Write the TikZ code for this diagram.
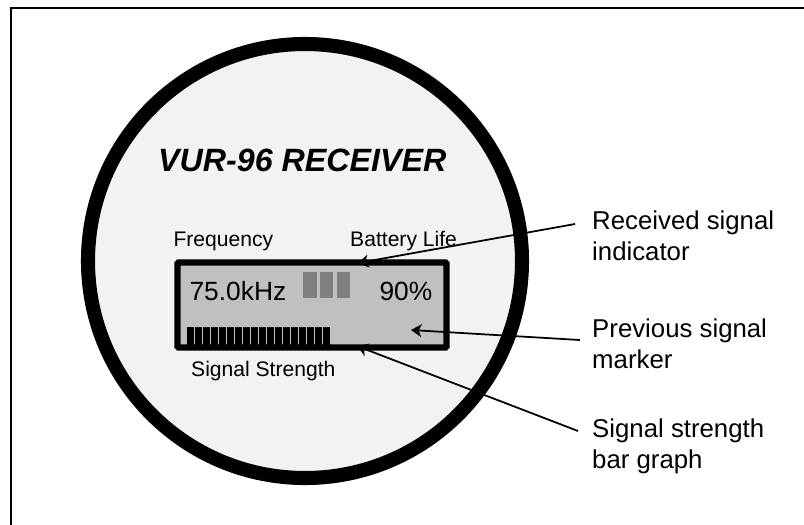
\documentclass[tikz,border=0pt]{standalone}
\usepackage{fontspec}
\setmainfont{Liberation Sans}
\usetikzlibrary{arrows.meta}

\definecolor{dialface}{HTML}{F2F2F2}
\definecolor{lcdgray}{HTML}{C0C0C0}
\definecolor{cellgray}{HTML}{808080}

\newcommand{\batteryCell}[1]{%
    \fill[cellgray] (#1,271.7) rectangle ++(13.4,26.6);
}
\newcommand{\strengthSeg}[1]{%
    \fill[black] (#1,327.3) rectangle ++(7,17.7);
}

\begin{document}
\begin{tikzpicture}[x=0.03cm, y=-0.03cm,
    smalllabel/.style={anchor=base west, inner sep=0pt, font=\fontsize{18}{21}\selectfont},
    lcdtext/.style={anchor=base west, inner sep=0pt, font=\fontsize{22.5}{26}\selectfont},
    callout/.style={anchor=base west, inner sep=0pt, align=left, font=\fontsize{22}{26}\selectfont},
    pointer/.style={line width=1.5pt, -{Stealth[length=9pt,width=11pt,inset=2.5pt]}}]

    \useasboundingbox (0,0) rectangle (804,524);

    % --- frame ---
    \draw[line width=1.7pt] (11,530) -- (11,8.3) -- (810,8.3);

    % --- dial ---
    \draw[line width=12pt, fill=dialface] (305,261) circle [radius=6.51cm];
    \node[anchor=base west, inner sep=0pt, font=\fontsize{27.5}{31}\selectfont\bfseries\itshape]
        (title) at (158,171.7) {VUR-96 RECEIVER};

    % --- display ---
    \node[smalllabel] (freq) at (173.3,246) {Frequency};
    \node[smalllabel] (batt) at (350,246) {Battery Life};

    \draw[line width=5.5pt, fill=lcdgray, rounded corners=1pt] (177.5,262.5) rectangle (446.5,347.5);

    \node[lcdtext] (khz) at (189.3,300) {75.0kHz};
    \node[lcdtext] (pct) at (379.3,300) {90\%};

    \batteryCell{303.3}
    \batteryCell{320}
    \batteryCell{336.6}

    \foreach \i in {0,...,17} {
        \strengthSeg{187+8*\i}
    }

    \node[smalllabel] (sig) at (191,376.5) {Signal Strength};

    % --- callouts (anchored on the last line) ---
    \node[callout] (rcv) at (592,260) {Received signal\\indicator};
    \node[callout] (prev) at (592,368) {Previous signal\\marker};
    \node[callout] (bar) at (592,468) {Signal strength\\bar graph};

    \coordinate (rcvEnd) at (575,224);
    \coordinate (prevEnd) at (580,340);
    \coordinate (barEnd) at (578,431);

    \coordinate (rcvTip) at (358,263);
    \coordinate (prevTip) at (411,330);
    \coordinate (barTip) at (357,346);

    \draw[pointer] (rcvEnd) -- (rcvTip);
    \draw[pointer] (prevEnd) -- (prevTip);
    \draw[pointer] (barEnd) -- (barTip);

\end{tikzpicture}
\end{document}
